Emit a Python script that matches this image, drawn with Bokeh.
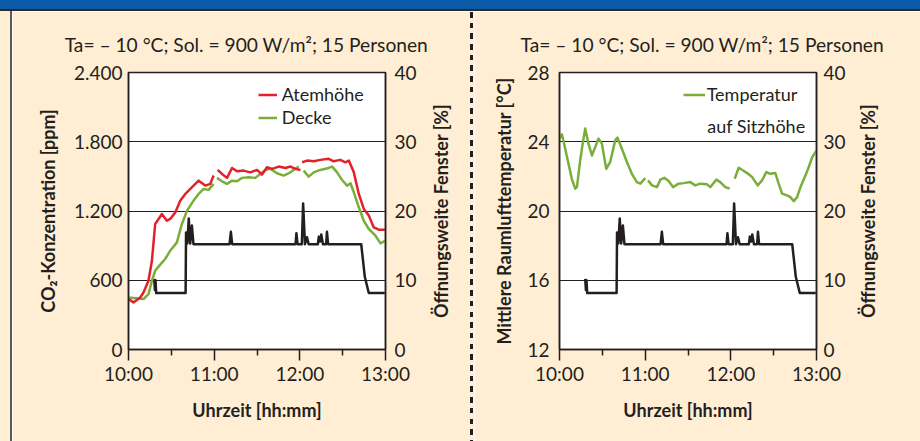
from bokeh.plotting import figure
from bokeh.models import Range1d, LinearAxis, FixedTicker, Legend, LegendItem, Label, Div
from bokeh.layouts import row, column
from bokeh.embed import file_html
from bokeh.resources import INLINE

NaN = float("nan")

# ---------------- data ----------------
time_ticks = [0, 60, 120, 180]          # minutes after 10:00
time_minor = [30, 90, 150]
time_labels = ["10:00", "11:00", "12:00", "13:00"]

co2_ticks = [0, 600, 1200, 1800, 2400]
co2_labels = ["0", "600", "1.200", "1.800", "2.400"]
temp_ticks = [12, 16, 20, 24, 28]
win_ticks = [0, 10, 20, 30, 40]

subtitle = "Ta= \u2013 10 \u00b0C; Sol. = 900 W/m\u00b2; 15 Personen"

atem_t = [0, 3.5, 8.2, 10.5, 14.0, 16.4, 18.7, 23.4, 26.9, 29.2, 32.8, 36.3, 39.8, 43.3, 49.1, 53.8, 57.3, 59.6,
          NaN, 62.4, 65.5, 69.0, 72.5, 76.0, 80.6, 85.3, 90.0, 93.5, 97.0, 100.6, 105.2, 109.9, 113.4, 116.9, 120.4,
          NaN, 121.6, 125.1, 129.7, 134.4, 140.2, 143.7, 148.4, 151.9, 154.3, 157.8, 161.3, 164.8, 168.3, 171.8, 175.3, 180]
atem_ppm = [437, 408, 451, 494, 596, 769, 1088, 1174, 1116, 1131, 1188, 1290, 1348, 1391, 1463, 1420, 1435, 1507,
            NaN, 1556, 1521, 1487, 1573, 1544, 1550, 1535, 1556, 1515, 1579, 1565, 1585, 1573, 1585, 1565, 1556,
            NaN, 1622, 1637, 1631, 1643, 1652, 1631, 1643, 1622, 1637, 1535, 1348, 1218, 1160, 1058, 1038, 1038]

decke_t = [0, 10.5, 14.0, 16.4, 18.7, 22.2, 25.7, 29.2, 33.9, 37.4, 41.0, 45.6, 49.1, 52.6, 56.1, 59.6,
           NaN, 62.0, 65.5, 69.0, 72.5, 76.0, 79.5, 84.1, 88.8, 92.3, 95.9, 99.4, 104.1, 108.7, 113.4, 119.2,
           NaN, 122.7, 126.2, 129.7, 134.4, 140.2, 142.6, 146.1, 149.6, 153.1, 155.5, 157.8, 161.3, 164.8, 168.3,
           173.0, 176.5, 180]
decke_ppm = [451, 437, 480, 596, 683, 735, 784, 856, 928, 1088, 1203, 1290, 1348, 1391, 1383, 1435,
             NaN, 1487, 1457, 1435, 1463, 1457, 1487, 1492, 1487, 1521, 1556, 1565, 1527, 1507, 1535, 1585,
             NaN, 1550, 1498, 1535, 1556, 1573, 1585, 1535, 1469, 1420, 1440, 1362, 1232, 1116, 1044,
             986, 920, 943]

temp_t = [0, 1.7, 4.0, 6.3, 8.6, 11.0, 12.2, 14.5, 16.4, 18.0, 20.3, 22.7, 25.0, 27.3, 29.7, 32.7, 35.5, 39.0,
          40.6, 43.7, 47.2, 50.7, 54.2, 56.6, 60.1,
          NaN, 62.0, 64.8, 68.3, 70.6, 73.4, 76.4, 79.5, 83.4, 86.9, 91.6, 95.1, 98.6, 103.3, 105.6, 109.8, 112.6,
          116.1, 119.2,
          NaN, 122.7, 125.5, 128.6, 131.4, 134.9, 138.8, 141.9, 144.9, 147.7, 151.2, 153.5, 155.9, 159.4, 161.7,
          164.1, 166.4, 168.8, 172.3, 174.6, 177.0, 180]
temp_c = [24.18, 24.43, 23.6, 22.73, 21.86, 21.29, 21.38, 22.92, 23.98, 24.76, 23.89, 23.21, 23.69, 24.18, 23.89,
          22.44, 22.83, 24.08, 24.24, 23.6, 22.83, 22.15, 21.67, 21.58, 21.9,
          NaN, 21.77, 21.48, 21.38, 21.81, 21.92, 21.73, 21.38, 21.58, 21.61, 21.67, 21.48, 21.58, 21.54, 21.38,
          21.81, 21.67, 21.38, 21.29,
          NaN, 21.86, 22.5, 22.34, 22.19, 21.96, 21.48, 21.77, 22.25, 22.15, 22.19, 21.58, 21.0, 20.9, 20.8,
          20.57, 20.8, 21.38, 22.06, 22.54, 23.11, 23.5]

win_t = [18.0, 18.5, 18.9, 19.4, 40.0, 40.3, 41.2, 42.2, 43.2, 44.4, 45.5, 70.8, 71.7, 72.6, 117.0, 117.6,
         118.4, 121.4, 122.3, 123.6, 125.0, 126.2, 132.6, 133.3, 134.2, 135.0, 136.2, 138.4, 139.0, 139.8,
         163.0, 165.5, 168.3, 179.5]
win_pct = [10.2, 8.6, 10.0, 8.15, 8.15, 16.9, 15.3, 18.9, 15.3, 17.9, 15.2, 15.2, 17.0, 15.2, 15.2, 16.8,
           15.2, 15.2, 21.1, 15.2, 16.2, 15.2, 15.2, 16.3, 15.6, 16.6, 15.2, 15.2, 17.0, 15.2,
           15.2, 10.5, 8.15, 8.15]

win_label = "\u00d6ffnungsweite Fenster [%]"

# ---------------- style ----------------
CREAM = "#FFEED3"
BLUE = "#0A5AA8"
INK = "#231F20"
RED = "#E4202A"
GREEN = "#7AAE3A"
FONT = "Lato"
TICK_FS = "19px"
LAB_FS = "18px"
TXT_FS = "18px"
TITLE_FS = "19.2px"

HEAD_H = 11
ROW_H = 441 - HEAD_H
TOP_B = 61
FRAME_H = 277
BOT_B = ROW_H - TOP_B - FRAME_H


def style_axis(ax, label, standoff_tick, standoff_label):
    ax.axis_label = label
    ax.axis_label_text_font = FONT
    ax.axis_label_text_font_style = "bold"
    ax.axis_label_text_font_size = LAB_FS
    ax.axis_label_text_color = INK
    ax.axis_label_standoff = standoff_label
    ax.major_label_text_font = FONT
    ax.major_label_text_font_size = TICK_FS
    ax.major_label_text_color = INK
    ax.major_label_standoff = standoff_tick
    ax.axis_line_color = INK
    ax.axis_line_width = 1.5
    ax.major_tick_line_color = INK
    ax.major_tick_line_width = 1.5
    ax.minor_tick_line_color = INK
    ax.minor_tick_line_width = 1.5


def panel(bl, br, y_ticks, y_labels, ylab, std, title_offset):
    p = figure(frame_width=257, frame_height=FRAME_H, min_border_left=bl, min_border_right=br,
               min_border_top=TOP_B, min_border_bottom=BOT_B,
               x_range=Range1d(time_ticks[0], time_ticks[-1]), y_range=Range1d(y_ticks[0], y_ticks[-1]),
               output_backend="svg", toolbar_location=None,
               background_fill_color="white", border_fill_color=CREAM,
               outline_line_color=INK, outline_line_width=1.5)
    p.extra_y_ranges = {"win": Range1d(win_ticks[0], win_ticks[-1])}

    p.title.text = subtitle
    p.title.align = "left"
    p.title.offset = title_offset
    p.title.standoff = 34
    p.title.text_font = FONT
    p.title.text_font_style = "normal"
    p.title.text_font_size = TITLE_FS
    p.title.text_color = INK

    xa = p.xaxis[0]
    xa.ticker = FixedTicker(ticks=time_ticks, minor_ticks=time_minor)
    xa.major_label_overrides = dict(zip(time_ticks, time_labels))
    xa.major_tick_in = 0
    xa.major_tick_out = 11
    xa.minor_tick_in = 0
    xa.minor_tick_out = 6
    style_axis(xa, "Uhrzeit [hh:mm]", std["xt"], std["xl"])

    ya = p.yaxis[0]
    ya.ticker = FixedTicker(ticks=y_ticks, minor_ticks=[])
    ya.major_label_overrides = dict(zip(y_ticks, y_labels))
    ya.major_tick_in = 0
    ya.major_tick_out = 0
    style_axis(ya, ylab, std["lt"], std["ll"])

    ra = LinearAxis(y_range_name="win", ticker=FixedTicker(ticks=win_ticks, minor_ticks=[]))
    ra.major_tick_in = 0
    ra.major_tick_out = 0
    style_axis(ra, None, std["rt"], 0)
    p.add_layout(ra, "right")

    p.xgrid.visible = False
    p.ygrid.ticker = FixedTicker(ticks=y_ticks, minor_ticks=[])
    p.ygrid.grid_line_color = INK
    p.ygrid.grid_line_width = 1

    p.line(win_t, win_pct, y_range_name="win", line_color=INK, line_width=2.5, line_join="round")
    return p


def label_strip(width, bl, text, standoff):
    """transparent narrow figure, pulled over the panel's right margin, carrying the
    right-hand axis title so that it reads bottom-to-top like in the original"""
    f = figure(frame_width=width - bl, frame_height=FRAME_H, min_border_left=bl, min_border_right=0,
               min_border_top=TOP_B, min_border_bottom=BOT_B, margin=(0, 0, 0, -width),
               x_range=Range1d(0, 1), y_range=Range1d(0, 1), output_backend="svg", toolbar_location=None,
               x_axis_location=None, y_axis_location=None,
               background_fill_alpha=0, border_fill_alpha=0, outline_line_color=None)
    f.xgrid.visible = False
    f.ygrid.visible = False
    ax = LinearAxis(ticker=FixedTicker(ticks=[], minor_ticks=[]))
    style_axis(ax, text, 0, standoff)
    ax.axis_line_color = None
    ax.major_tick_out = 0
    ax.major_tick_in = 0
    ax.minor_tick_out = 0
    ax.minor_tick_in = 0
    f.add_layout(ax, "left")
    return f


# left panel: CO2  (page x 12..470)
left = panel(116, 85, co2_ticks, co2_labels, "CO\u2082-Konzentration [ppm]",
             dict(xt=1, xl=11, lt=6, ll=12, rt=9), -63.8)
r_green = left.line(decke_t, decke_ppm, line_color=GREEN, line_width=2.5, line_join="round")
r_red = left.line(atem_t, atem_ppm, line_color=RED, line_width=2.5, line_join="round")
leg = Legend(items=[LegendItem(label="Atemh\u00f6he", renderers=[r_red]),
                    LegendItem(label="Decke", renderers=[r_green])],
             location=(129.7, 220.5), padding=0, margin=0, spacing=0,
             glyph_width=19, glyph_height=23, label_height=23, label_standoff=5,
             label_text_font=FONT, label_text_font_size=TXT_FS, label_text_color=INK,
             background_fill_alpha=0, border_line_alpha=0)
left.add_layout(leg)
left_lab = label_strip(50, 36, win_label, 5)          # overlays page x 420..470

# right panel: temperature  (page x 474..920)
right = panel(85, 104, temp_ticks, [str(t) for t in temp_ticks], "Mittlere Raumlufttemperatur [\u00b0C]",
              dict(xt=1, xl=11, lt=10, ll=9, rt=7), -38.9)
r_temp = right.line(temp_t, temp_c, line_color=GREEN, line_width=2.5, line_join="round")
leg2 = Legend(items=[LegendItem(label="Temperatur", renderers=[r_temp])],
              location=(123.7, 243.5), padding=0, margin=0, spacing=0,
              glyph_width=22, glyph_height=23, label_height=23, label_standoff=2,
              label_text_font=FONT, label_text_font_size=TXT_FS, label_text_color=INK,
              background_fill_alpha=0, border_line_alpha=0)
right.add_layout(leg2)
right.add_layout(Label(x=147.7, y=224, x_units="screen", y_units="screen", text="auf Sitzh\u00f6he",
                       text_baseline="alphabetic", text_font=FONT, text_font_size=TXT_FS, text_color=INK))
right_lab = label_strip(70, 33, win_label, 5)         # overlays page x 850..920

# decorations: header bar, left border, dashed separator
header = Div(text="", width=920, height=HEAD_H, margin=0,
             styles={"background": f"linear-gradient(to bottom, {BLUE} 0px, {BLUE} 9.3px, #2b2b2b 9.3px, #2b2b2b {HEAD_H}px)"})
lborder = Div(text="", width=12, height=ROW_H, margin=0,
              styles={"background": f"linear-gradient(to right, {CREAM} 0px, {CREAM} 10px, #5a5a5a 10px, #5a5a5a 12px)"})
sep = Div(text="", width=4, height=ROW_H, margin=0,
          styles={"background-color": CREAM,
                  "background-image": f"repeating-linear-gradient(to bottom, {INK} 0px, {INK} 5.5px, transparent 5.5px, transparent 10.7px)",
                  "background-size": "3px 100%", "background-repeat": "no-repeat",
                  "background-position": "0px 1px"})

layout = column(header, row(lborder, left, left_lab, sep, right, right_lab, spacing=0), spacing=0)
open("out.html", "w").write(file_html(layout, INLINE))
